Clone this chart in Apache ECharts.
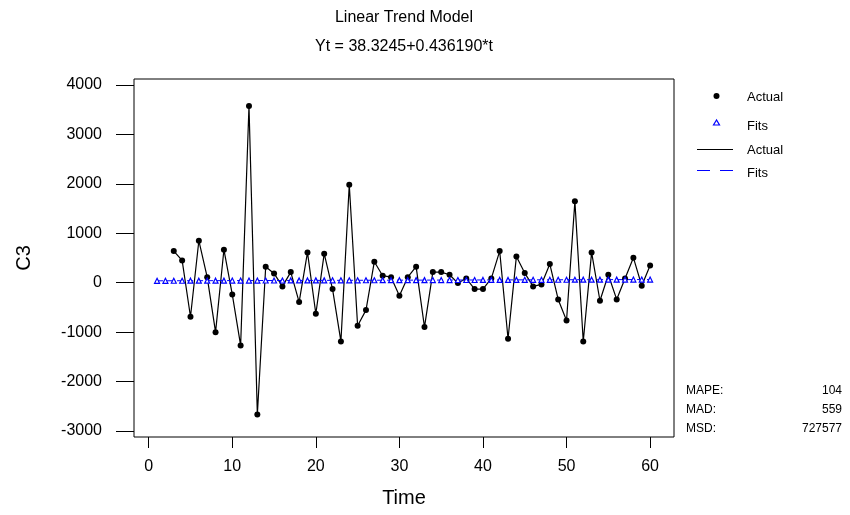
<!DOCTYPE html>
<html>
<head>
<meta charset="utf-8">
<script src="https://cdn.jsdelivr.net/npm/echarts@6/dist/echarts.min.js"></script>
<style>html,body{margin:0;padding:0;background:#fff}#c{width:850px;height:515px}</style>
</head>
<body>
<div id="c"></div>
<script>
// Time index and values
var actualTime = [3,4,5,6,7,8,9,10,11,12,13,14,15,16,17,18,19,20,21,22,23,24,25,26,27,28,29,30,31,32,33,34,35,36,37,38,39,40,41,42,43,44,45,46,47,48,49,50,51,52,53,54,55,56,57,58,59,60];
var actualValues = [640,451,-688,850,113,-1000,668,-237,-1269,3574,-2666,324,188,-75,215,-392,613,-628,587,-129,-1188,1983,-871,-554,425,142,113,-263,113,324,-898,215,215,162,-7,87,-129,-129,87,640,-1134,532,195,-75,-34,377,-338,-763,1646,-1188,613,-365,162,-338,87,506,-61,350];
var fitsTime = [1,2,3,4,5,6,7,8,9,10,11,12,13,14,15,16,17,18,19,20,21,22,23,24,25,26,27,28,29,30,31,32,33,34,35,36,37,38,39,40,41,42,43,44,45,46,47,48,49,50,51,52,53,54,55,56,57,58,59,60];
var fitsValues = [38.76,39.20,39.63,40.07,40.51,40.94,41.38,41.81,42.25,42.69,43.12,43.56,43.99,44.43,44.87,45.30,45.74,46.18,46.61,47.05,47.48,47.92,48.36,48.79,49.23,49.67,50.10,50.54,50.97,51.41,51.85,52.28,52.72,53.15,53.59,54.03,54.46,54.90,55.34,55.77,56.21,56.64,57.08,57.52,57.95,58.39,58.82,59.26,59.70,60.13,60.57,61.01,61.44,61.88,62.31,62.75,63.19,63.62,64.06,64.50];
var xTicks = [0,10,20,30,40,50,60];
var yTicks = [-3000,-2000,-1000,0,1000,2000,3000,4000];
var titleText = 'Linear Trend Model';
var subtitleText = 'Yt = 38.3245+0.436190*t';
var statNames = ['MAPE:','MAD:','MSD:'];
var statValues = ['104','559','727577'];

var FONT = '"Liberation Sans", Arial, sans-serif';
function zip(a,b){ return a.map(function(v,i){ return [v,b[i]]; }); }

var chart = echarts.init(document.getElementById('c'), null, {renderer:'canvas'});
var graphics = [
  {type:'text', style:{text:titleText, font:'16px '+FONT, fill:'#000', textAlign:'center', textVerticalAlign:'middle', x:404, y:18}},
  {type:'text', style:{text:subtitleText, font:'16px '+FONT, fill:'#000', textAlign:'center', textVerticalAlign:'middle', x:404, y:47}},
  // legend
  {type:'circle', shape:{cx:716.5, cy:96, r:3}, style:{fill:'#000'}},
  {type:'text', style:{text:'Actual', font:'13px '+FONT, fill:'#000', x:747, y:97, textVerticalAlign:'middle'}},
  {type:'polygon', shape:{points:[[716.5,120],[713.5,125],[719.5,125]]}, style:{fill:'#fff', stroke:'#0000ff', lineWidth:1.2}},
  {type:'text', style:{text:'Fits', font:'13px '+FONT, fill:'#000', x:747, y:126, textVerticalAlign:'middle'}},
  {type:'line', shape:{x1:697, y1:149.5, x2:733, y2:149.5}, style:{stroke:'#000', lineWidth:1}},
  {type:'text', style:{text:'Actual', font:'13px '+FONT, fill:'#000', x:747, y:150, textVerticalAlign:'middle'}},
  {type:'line', shape:{x1:697, y1:170.5, x2:733, y2:170.5}, style:{stroke:'#0000ff', lineWidth:1, lineDash:[13,10]}},
  {type:'text', style:{text:'Fits', font:'13px '+FONT, fill:'#000', x:747, y:173, textVerticalAlign:'middle'}}
];
var statY = [391, 410, 429];
statNames.forEach(function(n,i){
  graphics.push({type:'text', style:{text:n, font:'12px '+FONT, fill:'#000', x:686, y:statY[i], textVerticalAlign:'middle'}});
  graphics.push({type:'text', style:{text:statValues[i], font:'12px '+FONT, fill:'#000', x:842, y:statY[i], textAlign:'right', textVerticalAlign:'middle'}});
});

chart.setOption({
  animation:false,
  backgroundColor:'#fff',
  textStyle:{fontFamily:FONT},
  grid:{left:134, right:176, top:79, bottom:78, show:true, borderColor:'#000', borderWidth:1, backgroundColor:'transparent',
        containLabel:false, outerBoundsMode:'none'},
  xAxis:{
    type:'value', min:-1.76, max:62.86,
    name:'Time', nameLocation:'middle', nameGap:51,
    nameTextStyle:{fontSize:20, color:'#000', fontFamily:FONT},
    axisLine:{show:false, onZero:false}, splitLine:{show:false},
    axisTick:{show:true, inside:false, length:11, lineStyle:{color:'#000'}, customValues:xTicks},
    axisLabel:{fontSize:16, color:'#000', margin:22, fontFamily:FONT, customValues:xTicks,
               formatter:function(v){ return String(v); }}
  },
  yAxis:{
    type:'value', min:-3121, max:4121,
    name:'C3', nameLocation:'middle', nameGap:100, nameRotate:90,
    nameTextStyle:{fontSize:20, color:'#000', fontFamily:FONT},
    axisLine:{show:false, onZero:false}, splitLine:{show:false},
    axisTick:{show:true, inside:false, length:18, lineStyle:{color:'#000'}, customValues:yTicks},
    axisLabel:{fontSize:16, color:'#000', margin:32, fontFamily:FONT, customValues:yTicks,
               formatter:function(v){ return String(v); }}
  },
  series:[
    {name:'Actual', type:'line', data:zip(actualTime, actualValues), symbol:'circle', symbolSize:6,
     showAllSymbol:true, lineStyle:{color:'#000', width:1.2}, itemStyle:{color:'#000'}},
    {name:'Fits', type:'line', data:zip(fitsTime, fitsValues), symbol:'triangle', symbolSize:5,
     showAllSymbol:true, lineStyle:{color:'#0000ff', width:1, type:[6,4]}, itemStyle:{color:'#fff', borderColor:'#0000ff', borderWidth:1.2}}
  ],
  graphic:graphics
});
</script>
</body>
</html>
